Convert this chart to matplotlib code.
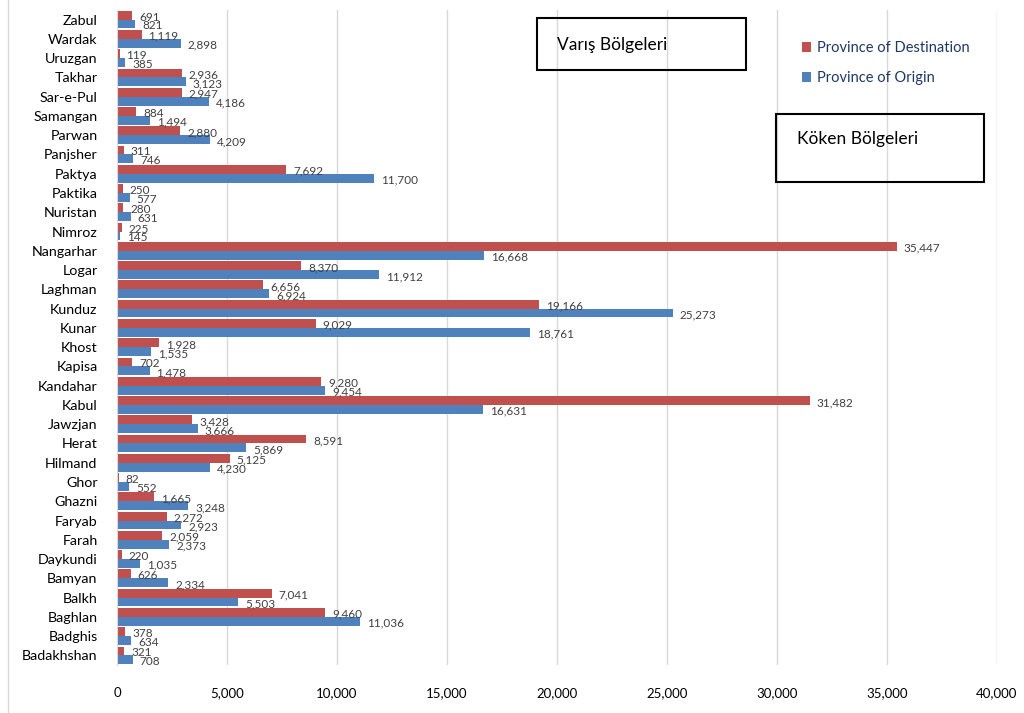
import matplotlib.pyplot as plt
from matplotlib.patches import Rectangle
import numpy as np

plt.rcParams['font.family'] = ['Lato', 'DejaVu Sans']

# provinces, bottom to top as drawn
provinces = ["Badakhshan", "Badghis", "Baghlan", "Balkh", "Bamyan", "Daykundi", "Farah",
             "Faryab", "Ghazni", "Ghor", "Hilmand", "Herat", "Jawzjan", "Kabul", "Kandahar",
             "Kapisa", "Khost", "Kunar", "Kunduz", "Laghman", "Logar", "Nangarhar", "Nimroz",
             "Nuristan", "Paktika", "Paktya", "Panjsher", "Parwan", "Samangan", "Sar-e-Pul",
             "Takhar", "Uruzgan", "Wardak", "Zabul"]
destination = [321, 378, 9460, 7041, 626, 220, 2059, 2272, 1665, 82, 5125, 8591, 3428,
               31482, 9280, 702, 1928, 9029, 19166, 6656, 8370, 35447, 225, 280, 250, 7692,
               311, 2880, 884, 2947, 2936, 119, 1119, 691]
origin = [708, 634, 11036, 5503, 2334, 1035, 2373, 2923, 3248, 552, 4230, 5869, 3666,
          16631, 9454, 1478, 1535, 18761, 25273, 6924, 11912, 16668, 145, 631, 577, 11700,
          746, 4209, 1494, 4186, 3123, 385, 2898, 821]
xticks = [0, 5000, 10000, 15000, 20000, 25000, 30000, 35000, 40000]

red = "#C0504D"
blue = "#4F81BD"
txt = "#404040"

fig = plt.figure(figsize=(10.24, 7.13), dpi=100)
ax = fig.add_axes([117/1024, 1 - 665/713, 880/1024, 655/713])

y = np.arange(len(provinces))
h = 0.46
ax.barh(y + h/2, destination, height=h, color=red, label="Province of Destination", zorder=2)
ax.barh(y - h/2, origin, height=h, color=blue, label="Province of Origin", zorder=2)

for yi, d, o in zip(y, destination, origin):
    ax.annotate(f"{d:,}", (d, yi + h/2 - 0.1), xytext=(5, 0), textcoords="offset points",
                va="center", ha="left", fontsize=8.5, color=txt, zorder=3)
    ax.annotate(f"{o:,}", (o, yi - h/2 - 0.1), xytext=(5, 0), textcoords="offset points",
                va="center", ha="left", fontsize=8.5, color=txt, zorder=3)

ax.set_xlim(0, 40000)
ax.set_ylim(-0.5, len(provinces) - 0.5)
ax.set_xticks(xticks)
ax.set_xticklabels([f"{v:,}" for v in xticks], fontsize=9.5, color="black")
ax.set_yticks(y)
ax.set_yticklabels(provinces, fontsize=10.3, color="black")
ax.tick_params(axis="both", length=0)
ax.tick_params(axis="x", pad=16)
ax.tick_params(axis="y", pad=14)
ax.grid(axis="x", color="#D9D9D9", linewidth=1, zorder=0)
for s in ["top", "right", "bottom"]:
    ax.spines[s].set_visible(False)
ax.spines["left"].set_color("#D9D9D9")

leg = ax.legend(loc="upper left", bbox_to_anchor=(789/1024, 1 - 28/713), bbox_transform=fig.transFigure,
                frameon=False, fontsize=10.5, handlelength=0.6, handleheight=0.6, handletextpad=0.4,
                labelspacing=1.1, labelcolor="#1F3864")

# text boxes
fig.patches.append(Rectangle((537/1024, 1 - 70/713), 209/1024, 52/713, transform=fig.transFigure,
                             fill=False, edgecolor="black", linewidth=1.5))
fig.text(557/1024, 1 - 45/713, "Varış Bölgeleri", fontsize=12.5, va="center", ha="left")
fig.patches.append(Rectangle((776/1024, 1 - 182/713), 208/1024, 68/713, transform=fig.transFigure,
                             fill=False, edgecolor="black", linewidth=1.5))
fig.text(797/1024, 1 - 139/713, "Köken Bölgeleri", fontsize=12.5, va="center", ha="left")

# outer chart border
fig.patches.append(Rectangle((8/1024, -0.01), 1.1, 1.1, transform=fig.transFigure,
                             fill=False, edgecolor="#D9D9D9", linewidth=1))

fig.savefig("out.png", dpi=100)
